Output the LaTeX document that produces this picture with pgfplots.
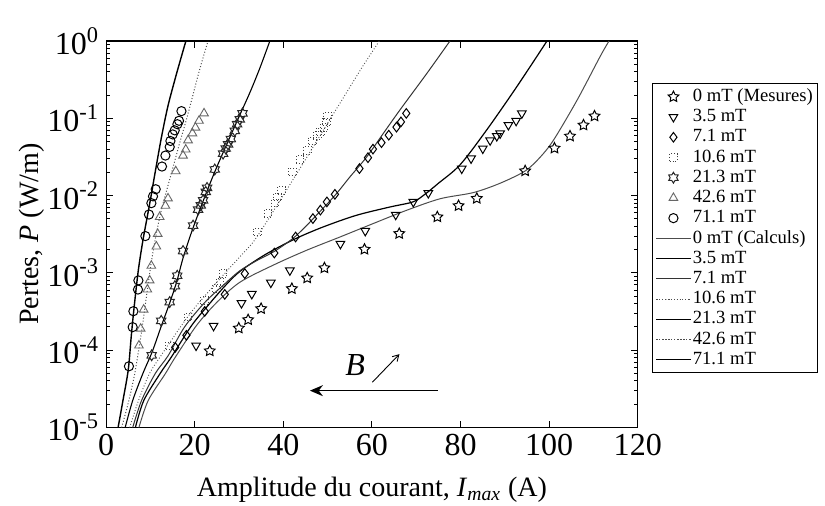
\documentclass[border=0pt]{standalone}
\usepackage{fontspec}
\setmainfont{Liberation Serif}
\usepackage{pgfplots}
\pgfplotsset{compat=1.18}
\usetikzlibrary{arrows.meta}

\pgfdeclareplotmark{ostar}{%
  \pgfpathmoveto{\pgfpointpolar{90}{1.0\pgfplotmarksize}}%
  \pgfpathlineto{\pgfpointpolar{126}{0.5\pgfplotmarksize}}%
  \pgfpathlineto{\pgfpointpolar{162}{1.0\pgfplotmarksize}}%
  \pgfpathlineto{\pgfpointpolar{198}{0.5\pgfplotmarksize}}%
  \pgfpathlineto{\pgfpointpolar{234}{1.0\pgfplotmarksize}}%
  \pgfpathlineto{\pgfpointpolar{270}{0.5\pgfplotmarksize}}%
  \pgfpathlineto{\pgfpointpolar{306}{1.0\pgfplotmarksize}}%
  \pgfpathlineto{\pgfpointpolar{342}{0.5\pgfplotmarksize}}%
  \pgfpathlineto{\pgfpointpolar{18}{1.0\pgfplotmarksize}}%
  \pgfpathlineto{\pgfpointpolar{54}{0.5\pgfplotmarksize}}%
  \pgfpathclose\pgfusepathqstroke}
\pgfdeclareplotmark{hexstar}{%
  \pgfpathmoveto{\pgfpointpolar{90}{1.0\pgfplotmarksize}}%
  \pgfpathlineto{\pgfpointpolar{120}{0.6\pgfplotmarksize}}%
  \pgfpathlineto{\pgfpointpolar{150}{1.0\pgfplotmarksize}}%
  \pgfpathlineto{\pgfpointpolar{180}{0.6\pgfplotmarksize}}%
  \pgfpathlineto{\pgfpointpolar{210}{1.0\pgfplotmarksize}}%
  \pgfpathlineto{\pgfpointpolar{240}{0.6\pgfplotmarksize}}%
  \pgfpathlineto{\pgfpointpolar{270}{1.0\pgfplotmarksize}}%
  \pgfpathlineto{\pgfpointpolar{300}{0.6\pgfplotmarksize}}%
  \pgfpathlineto{\pgfpointpolar{330}{1.0\pgfplotmarksize}}%
  \pgfpathlineto{\pgfpointpolar{0}{0.6\pgfplotmarksize}}%
  \pgfpathlineto{\pgfpointpolar{30}{1.0\pgfplotmarksize}}%
  \pgfpathlineto{\pgfpointpolar{60}{0.6\pgfplotmarksize}}%
  \pgfpathclose\pgfusepathqstroke}

\begin{document}
\begin{tikzpicture}
\path[use as bounding box] (-53pt,-39pt) rectangle (359pt,213.5pt);
\begin{axis}[
  scale only axis, width=265.5pt, height=193pt,
  xmin=0, xmax=120, ymode=log, ymin=1e-5, ymax=1,
  xtick={0,20,40,60,80,100,120},
  xticklabels={0,20,40,60,80,100,120},
  ytick={1e-5,1e-4,1e-3,1e-2,1e-1,1},
  yticklabels={10\textsuperscript{-5},10\textsuperscript{-4},10\textsuperscript{-3},10\textsuperscript{-2},10\textsuperscript{-1},10\textsuperscript{0}},
  minor ytick={2e-5,3e-5,4e-5,5e-5,6e-5,7e-5,8e-5,9e-5,
               2e-4,3e-4,4e-4,5e-4,6e-4,7e-4,8e-4,9e-4,
               2e-3,3e-3,4e-3,5e-3,6e-3,7e-3,8e-3,9e-3,
               2e-2,3e-2,4e-2,5e-2,6e-2,7e-2,8e-2,9e-2,
               2e-1,3e-1,4e-1,5e-1,6e-1,7e-1,8e-1,9e-1},
  tick align=inside, xtick pos=both, ytick pos=both,
  major tick length=3.5pt, minor tick length=2pt,
  every tick/.style={black, line width=0.5pt},
  axis line style={black, line width=0.6pt},
  ticklabel style={font=\fontsize{16}{16}\selectfont},
  xlabel={Amplitude du courant, \textit{I}\textsubscript{\textit{max}} (A)},
  ylabel={Pertes, \textit{P} (W/m)},
  label style={font=\fontsize{14}{15}\selectfont},
  xlabel style={at={(axis description cs:0.5,-0.16)}, anchor=center},
  ylabel style={at={(axis description cs:-0.14,0.5)}, anchor=center},
  legend cell align=left,
  legend style={at={(axis description cs:1.027,0.891)}, anchor=north west,
    draw=black, line width=0.5pt, font=\fontsize{9.3}{9.8}\selectfont,
    row sep=0pt, inner sep=1.5pt,
    nodes={inner sep=0.8pt, text height=6.6pt, text depth=1.9pt}},
]
% ---------- measurements ----------
\addplot[only marks, mark=ostar, mark size=2.8pt, black, line width=0.5pt] coordinates {
(23.39,9.8e-5)(29.94,1.93e-4)(32.05,2.48e-4)(34.98,3.45e-4)(41.92,6.26e-4)(45.38,8.6e-4)
(49.27,1.16e-3)(58.31,2.02e-3)(66.15,3.23e-3)(74.76,5.3e-3)(79.55,7.4e-3)(83.66,9.2e-3)
(94.58,2.09e-2)(101.2,4.11e-2)(104.7,5.88e-2)(107.75,8.17e-2)(110.24,0.107)};
\addlegendentry{0 mT (Mesures)}
\addplot[only marks, mark=triangle, mark size=2.5pt, mark options={rotate=180}, black, line width=0.5pt] coordinates {
(20.3,1.15e-4)(24.25,2.07e-4)(30.55,4.07e-4)(32.88,5.35e-4)(37.18,7.5e-4)(41.47,1.08e-3)
(52.88,2.38e-3)(58.49,3.5e-3)(65.36,5.66e-3)(69.33,8.3e-3)(72.72,1.08e-2)(80.27,2.24e-2)
(82.37,3.03e-2)(85.02,4.07e-2)(86.67,5.2e-2)(88.18,5.9e-2)(88.93,6.4e-2)(90.8,8.2e-2)
(92.54,9.3e-2)(93.83,0.116)};
\addlegendentry{3.5 mT}
\addplot[only marks, mark=diamond, mark size=2.4pt, black, line width=0.5pt] coordinates {
(15.59,1.09e-4)(18.12,1.56e-4)(22.26,3.18e-4)(26.78,5.28e-4)(31.3,9.8e-4)(37.97,1.81e-3)
(42.76,2.92e-3)(46.67,5.05e-3)(48.36,6.5e-3)(49.83,8.3e-3)(51.64,1.04e-2)(57.18,2.24e-2)
(59.1,3.1e-2)(60.23,4.0e-2)(62.15,4.85e-2)(63.8,6.06e-2)(65.54,7.7e-2)(66.55,9.0e-2)
(67.75,0.116)};
\addlegendentry{7.1 mT}
\addplot[only marks, mark=square, mark size=1.9pt, black!75, line width=0.45pt, densely dotted] coordinates {
(14.35,1.14e-4)(18.49,2.68e-4)(22.26,4.4e-4)(24.9,6.26e-4)(25.65,7.6e-4)(26.4,9.8e-4)
(34.17,3.39e-3)(36.56,5.86e-3)(38.08,8.0e-3)(38.69,9.6e-3)(39.59,1.17e-2)(42.08,2.03e-2)
(43.73,2.94e-2)(45.38,3.87e-2)(46.6,5.1e-2)(47.64,6.06e-2)(48.4,6.7e-2)(49.2,7.6e-2)
(49.76,9.0e-2)(49.9,0.107)};
\addlegendentry{10.6 mT}
\addplot[only marks, mark=hexstar, mark size=2.7pt, black!85, line width=0.5pt] coordinates {
(10.28,8.6e-5)(12.43,2.4e-4)(14.35,4.2e-4)(15.53,6.75e-4)(16.05,9.2e-4)(17.36,1.92e-3)
(19.62,4.1e-3)(20.75,6.6e-3)(21.36,7.5e-3)(21.88,8.7e-3)(22.49,1.12e-2)(22.78,1.26e-2)
(24.52,2.18e-2)(26.4,3.5e-2)(27.0,4.07e-2)(27.53,4.6e-2)(28.14,5.4e-2)(29.04,6.9e-2)
(29.56,8.4e-2)(30.17,9.7e-2)(30.78,0.116)};
\addlegendentry{21.3 mT}
\addplot[only marks, mark=triangle, mark size=2.5pt, black!60, line width=0.45pt] coordinates {
(7.41,1.15e-4)(7.8,1.9e-4)(8.47,3.35e-4)(9.31,6.1e-4)(9.83,8.0e-4)(10.21,1.24e-3)
(11.34,2.2e-3)(11.64,3.2e-3)(12.09,5.3e-3)(13.38,7.4e-3)(13.97,9.2e-3)(15.71,2.07e-2)
(17.36,3.3e-2)(17.97,3.95e-2)(18.49,5.2e-2)(19.48,6.4e-2)(20.16,7.6e-2)(20.97,9.3e-2)
(22.1,0.116)};
\addlegendentry{42.6 mT}
\addplot[only marks, mark=o, mark size=2.3pt, black, line width=0.5pt] coordinates {
(5.15,6.2e-5)(5.99,1.99e-4)(6.15,3.2e-4)(7.19,6.1e-4)(7.28,8.0e-4)(8.86,3.0e-3)
(9.67,5.7e-3)(10.21,8.0e-3)(10.58,9.8e-3)(11.19,1.21e-2)(12.61,2.38e-2)(13.38,3.3e-2)
(14.35,4.27e-2)(14.51,5.1e-2)(15.03,6.2e-2)(15.48,7.0e-2)(16.09,8.4e-2)(16.45,9.3e-2)
(17.0,0.124)};
\addlegendentry{71.1 mT}
% ---------- calculations ----------
\addplot[black!70, line width=0.5pt, smooth, no markers] coordinates {
(7.4,1e-5)(9.5,2.24e-5)(13.4,5.01e-5)(15.5,7.94e-5)(20.4,2.09e-4)(25,4.17e-4)(30.2,7.59e-4)
(37.7,1.26e-3)(45.2,1.96e-3)(52.8,2.92e-3)(60.3,4.36e-3)(67.8,6.46e-3)(75.4,9.12e-3)
(82.9,1.096e-2)(88.9,1.445e-2)(94.6,2.09e-2)(98,3.16e-2)(101,5.25e-2)(106.3,0.172)
(111.5,0.631)(113.5,1)};
\addlegendentry{0 mT (Calculs)}
\addplot[black, line width=0.6pt, smooth, no markers] coordinates {
(6.6,1e-5)(8.5,2.24e-5)(12.2,5.01e-5)(14.7,8.13e-5)(19.3,2.09e-4)(23,3.8e-4)(26.8,6.76e-4)
(30.2,1.047e-3)(36,1.74e-3)(42.6,2.75e-3)(49,3.94e-3)(56.5,5.57e-3)(64.1,7.14e-3)
(69.3,8.32e-3)(72,1.047e-2)(75,1.445e-2)(79.9,2.51e-2)(85.9,7.08e-2)(92.7,0.257)(99.5,1)};
\addlegendentry{3.5 mT}
\addplot[black!80, line width=0.5pt, smooth, no markers] coordinates {
(6.0,1e-5)(8,2.24e-5)(11.1,5.01e-5)(14,8.51e-5)(17.7,2.0e-4)(22.3,4.17e-4)(26.8,7.24e-4)
(30.2,1.07e-3)(34,1.445e-3)(38,1.905e-3)(42,2.75e-3)(44.5,3.72e-3)(46.7,5.01e-3)
(51.6,1e-2)(55,1.74e-2)(58.8,3.16e-2)(62.5,6.31e-2)(66.3,0.128)(72.4,0.382)(77.6,1)};
\addlegendentry{7.1 mT}
\addplot[black!70, line width=0.45pt, densely dotted, smooth, no markers] coordinates {
(5.3,1e-5)(7.5,2.4e-5)(9.8,5.01e-5)(12.5,8.71e-5)(14.4,1.26e-4)(17,2.09e-4)(20,3.55e-4)
(23,5.62e-4)(26.4,9.33e-4)(30.2,1.62e-3)(33.2,2.51e-3)(36,4.37e-3)(39.6,9.33e-3)
(43.2,2.0e-2)(48,5.62e-2)(54.6,0.232)(58,0.479)(61.65,1)};
\addlegendentry{10.6 mT}
\addplot[black, line width=0.55pt, smooth, no markers] coordinates {
(4.3,1e-5)(6,2.24e-5)(8.3,5.01e-5)(10.4,9.55e-5)(12.5,2.09e-4)(14.4,4.17e-4)(16,7.94e-4)
(17.4,1.585e-3)(19.6,3.8e-3)(22.5,1.047e-2)(24.9,2.29e-2)(27.5,5.01e-2)(30,0.105)
(32.5,0.219)(34.7,0.447)(36.95,1)};
\addlegendentry{21.3 mT}
\addplot[black!70, line width=0.5pt, densely dotted, smooth, no markers] coordinates {
(3.5,1e-5)(5,2.09e-5)(6.4,4.79e-5)(7.4,1.047e-4)(8.3,2.29e-4)(9.3,6.03e-4)(10.2,1.38e-3)
(11.3,3.16e-3)(12.5,6.61e-3)(14.3,1.585e-2)(16.5,4.57e-2)(18.1,9.55e-2)(19.5,0.191)
(21.2,0.447)(23,1)};
\addlegendentry{42.6 mT}
\addplot[black, line width=0.7pt, smooth, no markers] coordinates {
(2.7,1e-5)(3.8,2.24e-5)(5.0,5.62e-5)(5.7,1.585e-4)(6.4,3.98e-4)(7.3,1.12e-3)(8.3,2.63e-3)
(9.1,4.68e-3)(10,8.91e-3)(11,1.905e-2)(12.5,5.75e-2)(14,0.148)(16,0.398)(18,1)};
\addlegendentry{71.1 mT}
% ---------- annotation ----------
\draw[black, line width=0.6pt, -{Stealth[length=6.5pt,width=5.5pt]}] (axis cs:74.8,3.0e-5) -- (axis cs:46,3.0e-5);
\draw[black, line width=0.45pt, -{Straight Barb[length=3pt,width=3.5pt]}] (axis cs:60.1,3.86e-5) -- (axis cs:66.2,8.9e-5);
\node[font=\fontsize{16}{16}\selectfont\itshape] at (axis cs:56.2,6.35e-5) {B};
\end{axis}
\end{tikzpicture}
\end{document}
